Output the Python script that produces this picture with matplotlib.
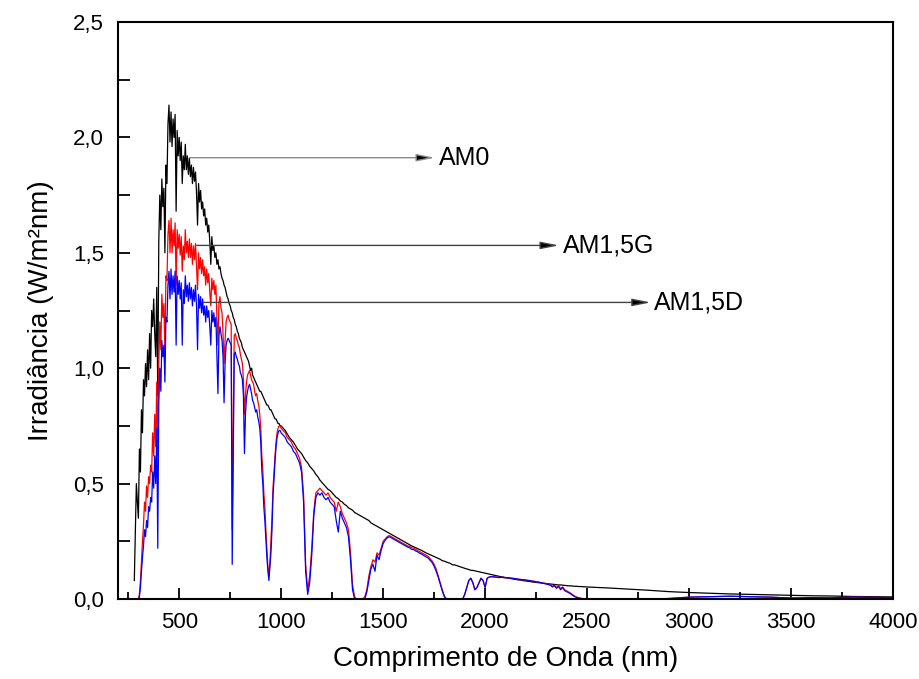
import numpy as np
import matplotlib
matplotlib.use("Agg")
import matplotlib.pyplot as plt
from matplotlib.ticker import MultipleLocator, FuncFormatter

plt.rcParams['font.family'] = ['Liberation Sans', 'DejaVu Sans']

# ---------------- data (W/m^2 nm) ----------------
# wavelength grids (nm)
wl_vis = list(range(280, 1001, 5))
wl_ir = list(range(1010, 2501, 10))
wl_far = list(range(2600, 4001, 100))

am0_vis = [
    0.08, 0.30, 0.50, 0.42, 0.35, 0.65, 0.55, 0.82, 0.72, 0.95,
    0.88, 1.02, 0.92, 1.08, 0.95, 1.15, 1.00, 1.25, 1.18, 1.30,
    1.15, 1.05, 1.35, 0.88, 1.55, 1.75, 1.60, 1.82, 1.70, 1.78,
    1.50, 1.88, 1.80, 2.06, 2.14, 1.98, 2.11, 1.96, 2.08, 2.00,
    2.10, 1.68, 2.03, 1.92, 2.00, 1.90, 1.98, 1.80, 1.92, 1.86,
    1.97, 1.86, 1.92, 1.84, 1.91, 1.83, 1.88, 1.80, 1.87, 1.81,
    1.85, 1.76, 1.62, 1.80, 1.72, 1.77, 1.69, 1.72, 1.66, 1.69,
    1.62, 1.65, 1.59, 1.62, 1.55, 1.45, 1.57, 1.51, 1.53, 1.48,
    1.50, 1.45, 1.47, 1.43, 1.44, 1.41, 1.39, 1.38, 1.36, 1.35,
    1.33, 1.31, 1.30, 1.28, 1.27, 1.25, 1.24, 1.22, 1.21, 1.19,
    1.18, 1.16, 1.15, 1.13, 1.12, 1.11, 1.09, 1.08, 1.07, 1.06,
    1.05, 1.04, 1.03, 1.01, 0.99, 1.00, 0.97, 0.96, 0.95, 0.94,
    0.93, 0.92, 0.91, 0.90, 0.90, 0.89, 0.88, 0.87, 0.86, 0.85,
    0.84, 0.84, 0.83, 0.82, 0.82, 0.81, 0.80, 0.79, 0.78, 0.78,
    0.77, 0.76, 0.76, 0.75, 0.75,
]
am15g_vis = [
    0.00, 0.00, 0.00, 0.00, 0.00, 0.02, 0.08, 0.16, 0.25, 0.32,
    0.42, 0.38, 0.49, 0.44, 0.53, 0.50, 0.58, 0.55, 0.72, 0.62,
    0.80, 0.66, 0.94, 0.62, 1.02, 1.20, 1.08, 1.32, 1.22, 1.28,
    1.06, 1.40, 1.38, 1.58, 1.64, 1.50, 1.65, 1.50, 1.60, 1.53,
    1.63, 1.36, 1.60, 1.52, 1.58, 1.49, 1.57, 1.42, 1.53, 1.47,
    1.60, 1.50, 1.55, 1.48, 1.56, 1.48, 1.54, 1.45, 1.53, 1.47,
    1.54, 1.44, 1.34, 1.50, 1.43, 1.48, 1.41, 1.47, 1.40, 1.44,
    1.36, 1.43, 1.37, 1.41, 1.33, 1.27, 1.39, 1.34, 1.38, 1.32,
    1.36, 1.22, 1.10, 1.28, 1.31, 1.26, 1.24, 1.15, 1.02, 1.12,
    1.20, 1.22, 1.23, 1.21, 1.20, 1.19, 0.30, 0.75, 1.14, 1.15,
    1.13, 1.12, 1.10, 1.09, 1.06, 1.04, 1.02, 0.95, 0.80, 0.88,
    0.94, 0.97, 0.98, 0.99, 0.97, 0.95, 0.94, 0.93, 0.90, 0.88,
    0.89, 0.86, 0.84, 0.80, 0.74, 0.62, 0.56, 0.46, 0.40, 0.30,
    0.22, 0.14, 0.10, 0.16, 0.26, 0.35, 0.48, 0.55, 0.62, 0.68,
    0.72, 0.74, 0.75, 0.75, 0.74,
]
am15d_vis = [
    0.00, 0.00, 0.00, 0.00, 0.00, 0.01, 0.05, 0.12, 0.18, 0.23,
    0.30, 0.27, 0.34, 0.31, 0.40, 0.38, 0.44, 0.42, 0.55, 0.48,
    0.62, 0.50, 0.74, 0.22, 0.85, 1.00, 0.90, 1.12, 1.05, 1.10,
    0.94, 1.22, 1.20, 1.36, 1.42, 1.30, 1.43, 1.32, 1.40, 1.33,
    1.42, 1.10, 1.40, 1.32, 1.38, 1.30, 1.37, 1.10, 1.34, 1.28,
    1.40, 1.31, 1.36, 1.29, 1.37, 1.30, 1.35, 1.27, 1.34, 1.29,
    1.36, 1.27, 1.08, 1.32, 1.26, 1.31, 1.24, 1.30, 1.23, 1.27,
    1.20, 1.27, 1.22, 1.25, 1.18, 1.10, 1.25, 1.20, 1.24, 1.18,
    1.22, 1.05, 0.89, 1.14, 1.18, 1.15, 1.12, 1.05, 0.85, 1.02,
    1.10, 1.12, 1.13, 1.12, 1.11, 1.10, 0.15, 0.60, 1.06, 1.07,
    1.05, 1.04, 1.02, 1.01, 0.98, 0.97, 0.95, 0.88, 0.63, 0.80,
    0.87, 0.90, 0.92, 0.93, 0.91, 0.89, 0.86, 0.85, 0.83, 0.81,
    0.82, 0.79, 0.77, 0.74, 0.68, 0.56, 0.50, 0.40, 0.34, 0.26,
    0.18, 0.12, 0.08, 0.14, 0.20, 0.30, 0.45, 0.52, 0.60, 0.66,
    0.70, 0.72, 0.73, 0.73, 0.72,
]

am0_ir = [
    0.740, 0.730, 0.715, 0.700, 0.690, 0.680, 0.665, 0.650, 0.640, 0.630,
    0.615, 0.600, 0.590, 0.575, 0.565, 0.555, 0.540, 0.530, 0.515, 0.505,
    0.495, 0.485, 0.475, 0.470, 0.460, 0.450, 0.440, 0.435, 0.425, 0.420,
    0.410, 0.405, 0.395, 0.390, 0.385, 0.375, 0.370, 0.365, 0.360, 0.355,
    0.350, 0.345, 0.340, 0.330, 0.325, 0.320, 0.315, 0.310, 0.305, 0.300,
    0.295, 0.290, 0.285, 0.280, 0.275, 0.270, 0.265, 0.260, 0.255, 0.250,
    0.245, 0.240, 0.235, 0.230, 0.226, 0.222, 0.218, 0.214, 0.210, 0.205,
    0.200, 0.196, 0.192, 0.188, 0.184, 0.180, 0.176, 0.172, 0.166, 0.164,
    0.160, 0.157, 0.154, 0.148, 0.148, 0.145, 0.142, 0.139, 0.136, 0.133,
    0.130, 0.128, 0.124, 0.124, 0.122, 0.120, 0.118, 0.116, 0.114, 0.112,
    0.110, 0.108, 0.106, 0.104, 0.102, 0.100, 0.098, 0.096, 0.095, 0.093,
    0.091, 0.089, 0.088, 0.086, 0.085, 0.083, 0.082, 0.081, 0.079, 0.078,
    0.077, 0.076, 0.074, 0.073, 0.072, 0.071, 0.070, 0.069, 0.068, 0.067,
    0.066, 0.065, 0.064, 0.063, 0.062, 0.061, 0.061, 0.060, 0.059, 0.058,
    0.057, 0.057, 0.056, 0.055, 0.055, 0.054, 0.054, 0.053, 0.053, 0.052,
]
am15g_ir = [
    0.73, 0.72, 0.70, 0.69, 0.68, 0.66, 0.65, 0.63, 0.61, 0.57,
    0.45, 0.15, 0.04, 0.10, 0.22, 0.38, 0.46, 0.47, 0.48, 0.47,
    0.46, 0.45, 0.46, 0.44, 0.43, 0.42, 0.38, 0.42, 0.40, 0.37,
    0.35, 0.33, 0.30, 0.20, 0.06, 0.01, 0.00, 0.00, 0.00, 0.00,
    0.01, 0.04, 0.10, 0.14, 0.17, 0.16, 0.20, 0.19, 0.22, 0.25,
    0.26, 0.27, 0.275, 0.27, 0.265, 0.26, 0.255, 0.25, 0.245, 0.24,
    0.235, 0.23, 0.228, 0.222, 0.22, 0.215, 0.21, 0.205, 0.20, 0.195,
    0.19, 0.185, 0.175, 0.165, 0.15, 0.13, 0.10, 0.07, 0.04, 0.015,
    0.0, 0.0, 0.0, 0.0, 0.0, 0.0, 0.0, 0.0, 0.0, 0.02,
    0.05, 0.08, 0.09, 0.07, 0.04, 0.05, 0.07, 0.09, 0.08, 0.05,
    0.09, 0.095, 0.097, 0.096, 0.095, 0.094, 0.093, 0.094, 0.093, 0.092,
    0.092, 0.091, 0.090, 0.089, 0.088, 0.086, 0.085, 0.084, 0.083, 0.082,
    0.081, 0.080, 0.078, 0.077, 0.075, 0.074, 0.072, 0.070, 0.068, 0.066,
    0.064, 0.062, 0.055, 0.060, 0.050, 0.058, 0.045, 0.052, 0.040, 0.035,
    0.030, 0.025, 0.018, 0.012, 0.008, 0.005, 0.003, 0.002, 0.001, 0.0,
]
am15d_ir = [
    0.71, 0.70, 0.68, 0.67, 0.66, 0.64, 0.63, 0.61, 0.59, 0.55,
    0.42, 0.12, 0.02, 0.07, 0.19, 0.36, 0.44, 0.46, 0.45, 0.46,
    0.44, 0.43, 0.44, 0.42, 0.41, 0.40, 0.34, 0.29, 0.38, 0.35,
    0.33, 0.31, 0.27, 0.17, 0.04, 0.0, 0.0, 0.0, 0.0, 0.0,
    0.0, 0.03, 0.08, 0.13, 0.15, 0.12, 0.19, 0.17, 0.21, 0.24,
    0.255, 0.265, 0.27, 0.265, 0.26, 0.255, 0.25, 0.245, 0.24, 0.235,
    0.23, 0.225, 0.222, 0.215, 0.214, 0.208, 0.204, 0.198, 0.194, 0.188,
    0.183, 0.178, 0.168, 0.158, 0.142, 0.12, 0.095, 0.065, 0.035, 0.01,
    0.0, 0.0, 0.0, 0.0, 0.0, 0.0, 0.0, 0.0, 0.0, 0.02,
    0.05, 0.08, 0.09, 0.07, 0.04, 0.05, 0.07, 0.09, 0.08, 0.05,
    0.09, 0.095, 0.097, 0.096, 0.095, 0.094, 0.093, 0.094, 0.093, 0.092,
    0.092, 0.091, 0.090, 0.089, 0.088, 0.086, 0.085, 0.084, 0.083, 0.082,
    0.080, 0.079, 0.077, 0.076, 0.074, 0.073, 0.071, 0.069, 0.067, 0.065,
    0.062, 0.060, 0.052, 0.058, 0.046, 0.055, 0.040, 0.050, 0.036, 0.032,
    0.027, 0.022, 0.015, 0.010, 0.006, 0.004, 0.002, 0.001, 0.0, 0.0,
]

am0_far = [0.048, 0.043, 0.038, 0.032, 0.028, 0.025, 0.022, 0.020,
           0.018, 0.016, 0.014, 0.013, 0.011, 0.010, 0.009]
am15g_far = [0.0, 0.0, 0.0, 0.002, 0.008, 0.010, 0.012, 0.010,
             0.008, 0.004, 0.006, 0.005, 0.008, 0.007, 0.006]
am15d_far = [0.0, 0.0, 0.0, 0.002, 0.008, 0.010, 0.012, 0.010,
             0.008, 0.004, 0.006, 0.005, 0.008, 0.007, 0.006]

labels = ["AM0", "AM1,5G", "AM1,5D"]
label_from = [(553, 1.912), (586, 1.532), (618, 1.285)]
label_to = [(1754, 1.912), (2362, 1.532), (2812, 1.285)]
arrow_colors = ["#8c8c8c", "#444444", "#444444"]

wl = np.array(wl_vis + wl_ir + wl_far)
am0 = np.array(am0_vis + am0_ir + am0_far)
am15g = np.array(am15g_vis + am15g_ir + am15g_far)
am15d = np.array(am15d_vis + am15d_ir + am15d_far)

# ---------------- figure ----------------
fig = plt.figure(figsize=(9.19, 6.79), dpi=100)
ax = fig.add_axes([118 / 919, 1 - 599 / 679, (893 - 118) / 919, (599 - 22) / 679])

ax.plot(wl, am0, color="black", lw=0.9)
ax.plot(wl, am15g, color="red", lw=0.9)
ax.plot(wl, am15d, color="blue", lw=0.9)

for lab, (x0, y0), (x1, y1), c in zip(labels, label_from, label_to, arrow_colors):
    ax.annotate("", xy=(x1, y1), xytext=(x0, y0),
                arrowprops=dict(arrowstyle="-|>,head_length=1.1,head_width=0.22",
                                color=c, lw=1.0, mutation_scale=10,
                                shrinkA=0, shrinkB=0, fc="black", ec=c))
    ax.text(x1 + 18, y1, lab, fontsize=18, va="center", ha="left", color="black")

ax.set_xlim(200, 4000)
ax.set_ylim(0, 2.5)
ax.xaxis.set_major_locator(MultipleLocator(500))
ax.xaxis.set_minor_locator(MultipleLocator(250))
ax.yaxis.set_major_locator(MultipleLocator(0.5))
ax.yaxis.set_minor_locator(MultipleLocator(0.25))
ax.yaxis.set_major_formatter(FuncFormatter(lambda v, p: f"{v:.1f}".replace(".", ",")))
ax.xaxis.set_major_formatter(FuncFormatter(lambda v, p: f"{int(round(v))}"))

ax.tick_params(axis="both", which="both", direction="in", top=False, right=False,
               width=1.3, labelsize=16)
ax.tick_params(axis="x", which="major", length=8, pad=9)
ax.tick_params(axis="x", which="minor", length=5)
ax.tick_params(axis="y", which="major", length=8.5, pad=10)
ax.tick_params(axis="y", which="minor", length=8.5)

for s in ax.spines.values():
    s.set_linewidth(1.5)

ax.set_xlabel("Comprimento de Onda (nm)", fontsize=20, labelpad=10)
ax.set_ylabel("Irradiância (W/m²nm)", fontsize=20, labelpad=14)

fig.savefig("out.png", dpi=100)
